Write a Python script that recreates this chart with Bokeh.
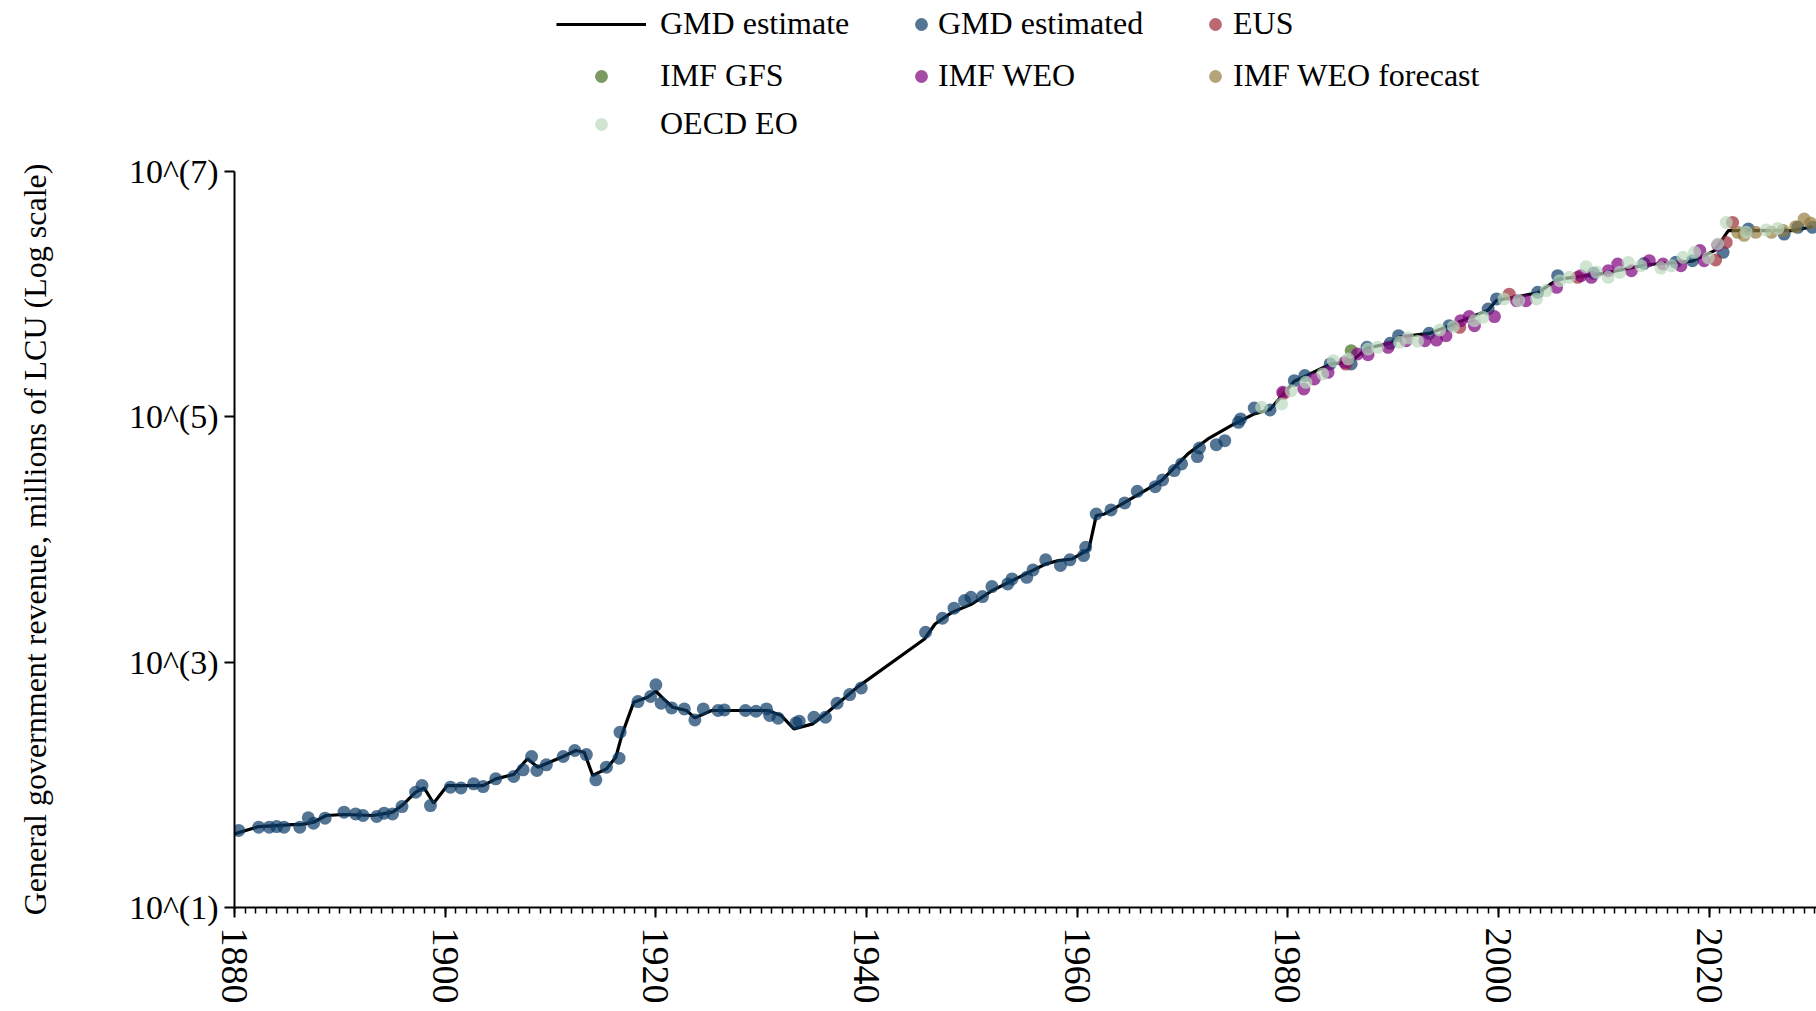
import numpy as np
from bokeh.plotting import figure
from bokeh.layouts import column
from bokeh.models import Legend, LegendItem, FixedTicker, CustomJSTickFormatter, Range1d
from bokeh.embed import file_html
from bokeh.resources import INLINE

SERIF = "Liberation Serif"

# ---------------- data (log10 of millions of LCU) -------------
line_year = [1880.0, 1882.3, 1885.5, 1886.3, 1887.5, 1888.7, 1890.4, 1893.1, 1894.1, 1895.0,
             1896.0, 1897.2, 1898.0, 1898.9, 1900.2, 1903.6, 1904.8, 1906.5, 1907.8, 1908.8,
             1911.2, 1912.4, 1913.2, 1914.0, 1915.3, 1916.2, 1916.8, 1917.9, 1919.2, 1920.0,
             1920.9, 1921.6, 1922.9, 1923.7, 1925.3, 1930.6, 1931.9, 1933.1, 1934.9, 1936.3,
             1939.2, 1945.5, 1946.5, 1948.1, 1950.0, 1951.9, 1953.8, 1955.4, 1957.0, 1958.2,
             1959.5, 1961.1, 1961.8, 1962.6, 1964.8, 1966.7, 1968.0, 1970.5, 1972.4, 1974.9,
             1976.8, 1978.3, 1980.6, 1981.6, 1984.0, 1986.0, 1987.5, 1989.7, 1990.5, 1993.4,
             1995.3, 1999.0, 1999.8, 2003.7, 2005.6, 2010.0, 2014.0, 2018.4, 2020.5, 2021.8,
             2023.7, 2027.8, 2029.8]
line_log10 = [1.60, 1.66, 1.676, 1.676, 1.695, 1.750, 1.758, 1.750, 1.763, 1.777,
              1.839, 1.940, 1.975, 1.850, 1.994, 1.994, 2.049, 2.084, 2.212, 2.144,
              2.231, 2.280, 2.266, 2.076, 2.130, 2.225, 2.415, 2.674, 2.714, 2.763,
              2.687, 2.633, 2.606, 2.546, 2.606, 2.606, 2.565, 2.456, 2.497, 2.592,
              2.801, 3.189, 3.311, 3.406, 3.474, 3.583, 3.664, 3.732, 3.800, 3.828,
              3.841, 3.922, 4.195, 4.208, 4.317, 4.412, 4.480, 4.698, 4.820, 4.942,
              5.024, 5.06, 5.29, 5.33, 5.43, 5.45, 5.56, 5.60, 5.65, 5.68,
              5.74, 5.87, 5.95, 6.01, 6.12, 6.17, 6.24, 6.27, 6.355, 6.518,
              6.52, 6.518, 6.55]

gmd_year = [1880.4, 1882.3, 1883.3, 1884.0, 1884.7, 1886.2, 1887.0, 1887.5, 1888.6, 1890.4,
            1891.5, 1892.2, 1893.5, 1894.2, 1895.0, 1895.9, 1897.2, 1897.8, 1898.6, 1900.5,
            1901.5, 1902.7, 1903.6, 1904.8, 1906.5, 1907.4, 1908.2, 1908.7, 1909.6, 1911.2,
            1912.3, 1913.4, 1914.3, 1915.3, 1916.5, 1916.6, 1918.3, 1919.5, 1920.0, 1920.5,
            1921.5, 1922.7, 1923.7, 1924.5, 1925.9, 1926.5, 1928.5, 1929.5, 1930.5, 1930.8,
            1931.6, 1933.3, 1933.6, 1935.0, 1936.1, 1937.2, 1938.4, 1939.5, 1945.6, 1947.2,
            1948.3, 1949.3, 1949.9, 1951.0, 1951.9, 1953.4, 1953.8, 1955.2, 1955.8, 1957.0,
            1958.4, 1959.3, 1960.6, 1960.8, 1961.8, 1963.2, 1964.5, 1965.7, 1967.4, 1968.1,
            1969.2, 1969.9, 1971.4, 1971.6, 1973.2, 1974.0, 1975.3, 1975.5, 1976.8, 1978.3,
            1980.6, 1981.6, 1984.0, 1986.0, 1987.5, 1989.7, 1990.5, 1993.4, 1995.3, 1999.0,
            1999.8, 2003.7, 2005.6, 2009.0, 2013.8, 2016.8, 2018.4, 2021.3, 2023.7, 2027.1,
            2028.4, 2029.8]
gmd_log10 = [1.628, 1.655, 1.655, 1.660, 1.655, 1.655, 1.731, 1.687, 1.728, 1.777,
             1.763, 1.750, 1.742, 1.769, 1.763, 1.823, 1.940, 1.994, 1.831, 1.981,
             1.975, 2.008, 1.986, 2.049, 2.068, 2.122, 2.231, 2.117, 2.163, 2.231,
             2.280, 2.247, 2.041, 2.144, 2.217, 2.429, 2.679, 2.720, 2.815, 2.665,
             2.627, 2.619, 2.529, 2.619, 2.606, 2.611, 2.606, 2.600, 2.619, 2.565,
             2.543, 2.505, 2.519, 2.551, 2.551, 2.665, 2.736, 2.790, 3.244, 3.358,
             3.440, 3.502, 3.529, 3.535, 3.616, 3.638, 3.679, 3.692, 3.752, 3.834,
             3.788, 3.834, 3.869, 3.937, 4.208, 4.241, 4.298, 4.393, 4.431, 4.486,
             4.562, 4.616, 4.676, 4.746, 4.773, 4.806, 4.955, 4.983, 5.072, 5.056,
             5.295, 5.336, 5.431, 5.431, 5.567, 5.599, 5.662, 5.681, 5.743, 5.879,
             5.961, 6.015, 6.151, 6.17, 6.25, 6.26, 6.273, 6.341, 6.531, 6.49,
             6.545, 6.545]

eus_year = [1979.6, 1985.5, 1996.3, 2001.0, 2007.5, 2020.6, 2021.6, 2022.2]
eus_log10 = [5.19, 5.43, 5.73, 6.00, 6.137, 6.279, 6.422, 6.585]

gfs_year = [1986.0]
gfs_log10 = [5.539]

weo_year = [1979.5, 1981.5, 1982.5, 1983.8, 1985.4, 1986.6, 1987.6, 1989.5, 1991.2, 1993.0,
            1994.1, 1995.0, 1996.4, 1997.2, 1997.7, 1999.6, 2001.7, 2002.6, 2005.5, 2007.8,
            2008.8, 2010.4, 2011.3, 2012.6, 2014.3, 2015.6, 2017.3, 2019.1, 2019.5, 2020.8]
weo_log10 = [5.200, 5.227, 5.309, 5.363, 5.444, 5.512, 5.507, 5.567, 5.621, 5.621,
             5.626, 5.662, 5.784, 5.817, 5.743, 5.817, 5.947, 5.947, 6.056, 6.151,
             6.137, 6.191, 6.246, 6.191, 6.273, 6.246, 6.232, 6.355, 6.273, 6.40]

fc_year = [2022.7, 2023.3, 2024.4, 2025.9, 2027.0, 2028.2, 2029.0, 2029.6]
fc_log10 = [6.504, 6.48, 6.504, 6.504, 6.52, 6.55, 6.613, 6.58]

oecd_year = [1977.5, 1979.4, 1980.3, 1981.7, 1983.3, 1984.3, 1985.7, 1987.6, 1988.5, 1990.6,
             1991.4, 1992.3, 1994.4, 1995.7, 1997.7, 1998.5, 2000.5, 2001.9, 2003.6, 2004.5,
             2005.8, 2006.7, 2008.3, 2009.3, 2010.4, 2011.5, 2012.3, 2013.5, 2015.4, 2016.4,
             2017.5, 2018.6, 2019.9, 2020.8, 2021.6, 2023.5, 2025.4, 2026.5]
oecd_log10 = [5.078, 5.105, 5.213, 5.281, 5.350, 5.458, 5.472, 5.553, 5.567, 5.607,
              5.643, 5.616, 5.708, 5.735, 5.784, 5.811, 5.961, 5.947, 5.961, 6.029,
              6.110, 6.137, 6.224, 6.178, 6.137, 6.178, 6.259, 6.232, 6.213, 6.232,
              6.300, 6.341, 6.295, 6.409, 6.585, 6.504, 6.524, 6.536]

x_major_ticks = [1880, 1900, 1920, 1940, 1960, 1980, 2000, 2020]
x_minor_ticks = list(range(1880, 2031))
y_ticks = [1e1, 1e3, 1e5, 1e7]

series_colors = {"GMD estimated": "#0b3a66", "EUS": "#9c2a36", "IMF GFS": "#416f1f",
                 "IMF WEO": "#7d007d", "IMF WEO forecast": "#957d41", "OECD EO": "#bad9bd"}

# ---------------- main figure -------------
W, H, LEG_H = 1816, 1011, 150
FRAME_LEFT = 234
p = figure(width=W, height=H - LEG_H, y_axis_type="log",
           x_range=Range1d(1880, 2030.17), y_range=Range1d(10, 1e7),
           output_backend="svg", toolbar_location=None,
           min_border_left=FRAME_LEFT, min_border_right=0,
           min_border_top=171 - LEG_H, min_border_bottom=104)
p.outline_line_color = None
p.grid.visible = False
p.background_fill_color = "white"
p.border_fill_color = "white"

p.line(line_year, 10 ** np.array(line_log10), line_color="black", line_width=3.2)


def pts(fig, xs, logs, color):
    return fig.scatter(xs, 10 ** np.array(logs), size=13, fill_color=color,
                       fill_alpha=0.7, line_color=None)


pts(p, gmd_year, gmd_log10, series_colors["GMD estimated"])
pts(p, eus_year, eus_log10, series_colors["EUS"])
pts(p, gfs_year, gfs_log10, series_colors["IMF GFS"])
pts(p, weo_year, weo_log10, series_colors["IMF WEO"])
pts(p, fc_year, fc_log10, series_colors["IMF WEO forecast"])
pts(p, oecd_year, oecd_log10, series_colors["OECD EO"])

xa = p.xaxis[0]
xa.ticker = FixedTicker(ticks=x_major_ticks, minor_ticks=x_minor_ticks)
xa.major_label_orientation = "vertical"
xa.major_label_text_font = SERIF
xa.major_label_text_font_size = "38px"
xa.major_label_text_color = "black"
xa.major_label_standoff = 10
xa.major_tick_out = 10
xa.major_tick_in = 0
xa.minor_tick_out = 6
xa.minor_tick_in = 0
xa.axis_line_width = 2
xa.major_tick_line_width = 2
xa.minor_tick_line_width = 1.5

ya = p.yaxis[0]
ya.ticker = FixedTicker(ticks=y_ticks)
ya.formatter = CustomJSTickFormatter(code="return '10^(' + Math.round(Math.log10(tick)) + ')';")
ya.major_label_text_font = SERIF
ya.major_label_text_font_size = "34px"
ya.major_label_text_color = "black"
ya.major_label_standoff = 6
ya.major_tick_out = 10
ya.major_tick_in = 0
ya.minor_tick_line_color = None
ya.axis_line_width = 2
ya.major_tick_line_width = 2
ya.axis_label = "General government revenue, millions of LCU (Log scale)"
ya.axis_label_text_font = SERIF
ya.axis_label_text_font_size = "32px"
ya.axis_label_text_font_style = "normal"
ya.axis_label_text_color = "black"
ya.axis_label_standoff = 73

# ---------------- legend strip (keys placed like the original 3-column grid) -------------
leg = figure(width=W, height=LEG_H, x_range=Range1d(0, 1), y_range=Range1d(0, 1),
             output_backend="svg", toolbar_location=None,
             x_axis_location=None, y_axis_location=None,
             min_border_left=FRAME_LEFT, min_border_right=0,
             min_border_top=0, min_border_bottom=0)
leg.outline_line_color = None
leg.grid.visible = False

# key renderers: one off-range point each, only used to draw the legend keys
key_line = leg.line([-2, -1], [-2, -1], line_color="black", line_width=3)
key_dots = {name: leg.scatter([-2], [-2], size=13, fill_color=c, fill_alpha=0.7, line_color=None)
            for name, c in series_colors.items()}

ITEM_H = 36
DOT_BOX = 32


def key(renderer, label, center_x, center_y, glyph_w, text_x):
    left = center_x - glyph_w // 2
    lg = Legend(items=[LegendItem(label=label, renderers=[renderer])],
                location=(left - FRAME_LEFT, LEG_H - (center_y + ITEM_H // 2)),
                glyph_width=glyph_w, glyph_height=DOT_BOX, label_height=DOT_BOX,
                label_standoff=int(text_x - (left + glyph_w)), padding=0, margin=0,
                spacing=0, border_line_color=None, background_fill_alpha=0,
                label_text_font=SERIF, label_text_font_size="32px",
                label_text_color="black")
    leg.add_layout(lg)


key(key_line, "GMD estimate", 601, 24, 90, 660)
key(key_dots["GMD estimated"], "GMD estimated", 921, 24, DOT_BOX, 938)
key(key_dots["EUS"], "EUS", 1215, 24, DOT_BOX, 1233)
key(key_dots["IMF GFS"], "IMF GFS", 601, 76, DOT_BOX, 660)
key(key_dots["IMF WEO"], "IMF WEO", 921, 76, DOT_BOX, 938)
key(key_dots["IMF WEO forecast"], "IMF WEO forecast", 1215, 76, DOT_BOX, 1233)
key(key_dots["OECD EO"], "OECD EO", 601, 124, DOT_BOX, 660)

page = column(leg, p, spacing=0)
open("out.html", "w").write(file_html(page, INLINE))
